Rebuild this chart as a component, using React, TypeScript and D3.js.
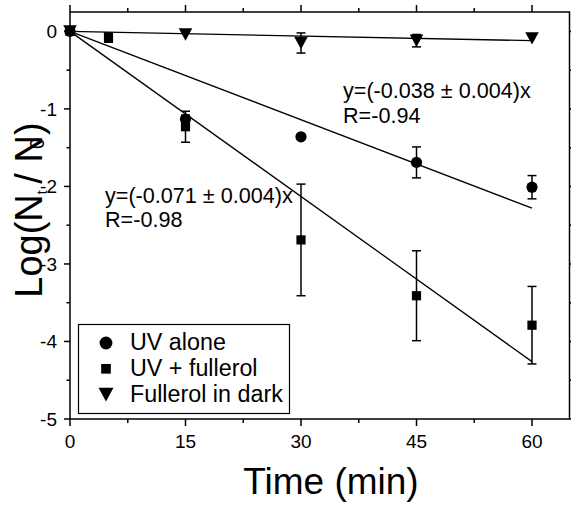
import React from "react";
import * as d3 from "d3";

const uvAloneTime = [0, 15, 30, 45, 60];
const uvAloneVal = [0, -1.13, -1.36, -1.69, -2.01];
const uvAloneErr = [0, 0.05, 0.03, 0.2, 0.15];

const uvFullTime = [0, 5, 15, 30, 45, 60];
const uvFullVal = [0, -0.08, -1.23, -2.69, -3.41, -3.79];
const uvFullErr = [0, 0.06, 0.2, 0.72, 0.58, 0.5];

const darkTime = [0, 15, 30, 45, 60];
const darkVal = [0, -0.04, -0.15, -0.12, -0.09];
const darkErr = [0, 0, 0.13, 0.08, 0];

const fitSlopes = [-0.038, -0.071, -0.002];
const fitEnd = 60;

const xTicks = [0, 15, 30, 45, 60];
const xMinor = [7.5, 22.5, 37.5, 52.5];
const yTicks = [0, -1, -2, -3, -4, -5];
const yMinor = [-0.5, -1.5, -2.5, -3.5, -4.5];

const legendLabels = ["UV alone", "UV + fullerol", "Fullerol in dark"];
const annotations = [
  ["y=(-0.038 ± 0.004)x", "R=-0.94"],
  ["y=(-0.071 ± 0.004)x", "R=-0.98"],
];

const FONT = "'Liberation Sans', Arial, sans-serif";

function Marker({ kind, cx, cy, s = 1 }: { kind: number; cx: number; cy: number; s?: number }) {
  if (kind === 0) return <circle cx={cx} cy={cy} r={5.6 * s} fill="#000" />;
  if (kind === 1) {
    const h = 4.6 * s;
    return <rect x={cx - h} y={cy - h} width={2 * h} height={2 * h} fill="#000" />;
  }
  const w = 6.8 * s;
  const hh = 6.2 * s;
  return <path d={`M${cx - w},${cy - hh}L${cx + w},${cy - hh}L${cx},${cy + hh}Z`} fill="#000" />;
}

export default function App() {
  const L = 70, R = 570.5, T = 12, B = 419;
  const x = d3.scaleLinear().domain([0, 65]).range([L, R]);
  const y = d3.scaleLinear().domain([-5, 0.25]).range([B, T]);

  const series = [
    { t: uvAloneTime, v: uvAloneVal, e: uvAloneErr },
    { t: uvFullTime, v: uvFullVal, e: uvFullErr },
    { t: darkTime, v: darkVal, e: darkErr },
  ];
  const line = d3.line<number>().x((d) => x(d[0] as any)).y((d) => y(d[1] as any));

  const frameR = 569.5;
  return (
    <svg
      width={571}
      height={506}
      style={{ position: "absolute", left: 0, top: 0, background: "#fff" }}
      fontFamily={FONT}
    >
      <rect x={0} y={0} width={571} height={506} fill="#fff" />
      {fitSlopes.map((m, i) => (
        <path
          key={"fit" + i}
          d={line([[0, 0], [fitEnd, m * fitEnd]] as any) as string}
          stroke="#000"
          strokeWidth={1.3}
          fill="none"
        />
      ))}
      {series.map((s, k) =>
        s.t.map((t, i) =>
          s.e[i] > 0.02 ? (
            <g key={`e${k}-${i}`} stroke="#000" strokeWidth={1.5}>
              <line x1={x(t)} x2={x(t)} y1={y(s.v[i] + s.e[i])} y2={y(s.v[i] - s.e[i])} />
              <line x1={x(t) - 4.5} x2={x(t) + 4.5} y1={y(s.v[i] + s.e[i])} y2={y(s.v[i] + s.e[i])} />
              <line x1={x(t) - 4.5} x2={x(t) + 4.5} y1={y(s.v[i] - s.e[i])} y2={y(s.v[i] - s.e[i])} />
            </g>
          ) : null
        )
      )}
      {series.map((s, k) =>
        s.t.map((t, i) => <Marker key={`m${k}-${i}`} kind={k} cx={x(t)} cy={y(s.v[i])} />)
      )}
      <rect x={L} y={T} width={frameR - L} height={B - T} fill="none" stroke="#000" strokeWidth={1.5} />
      {xTicks.map((t) => (
        <g key={"xt" + t} stroke="#000" strokeWidth={1.5}>
          <line x1={x(t)} x2={x(t)} y1={B} y2={B + 7} />
          <line x1={x(t)} x2={x(t)} y1={T} y2={T - 7} />
        </g>
      ))}
      {xMinor.map((t) => (
        <g key={"xm" + t} stroke="#000" strokeWidth={1.5}>
          <line x1={x(t)} x2={x(t)} y1={B} y2={B + 4} />
          <line x1={x(t)} x2={x(t)} y1={T} y2={T - 4} />
        </g>
      ))}
      {yTicks.map((t) => (
        <g key={"yt" + t} stroke="#000" strokeWidth={1.5}>
          <line x1={L} x2={L - 6} y1={y(t)} y2={y(t)} />
          <line x1={frameR} x2={frameR + 6} y1={y(t)} y2={y(t)} />
        </g>
      ))}
      {yMinor.map((t) => (
        <g key={"ym" + t} stroke="#000" strokeWidth={1.5}>
          <line x1={L} x2={L - 3.5} y1={y(t)} y2={y(t)} />
          <line x1={frameR} x2={frameR + 3.5} y1={y(t)} y2={y(t)} />
        </g>
      ))}
      {xTicks.map((t) => (
        <text key={"xl" + t} x={x(t)} y={448} textAnchor="middle" fontSize={19}>
          {t}
        </text>
      ))}
      {yTicks.map((t) => (
        <text key={"yl" + t} x={57} y={y(t) + 7} textAnchor="end" fontSize={19}>
          {t}
        </text>
      ))}
      <text x={331} y={494} textAnchor="middle" fontSize={37}>
        Time (min)
      </text>
      <text transform="translate(42,210) rotate(-90)" textAnchor="middle" fontSize={38}>
        Log(N
        <tspan fontSize={14} dy={5}>t</tspan>
        <tspan dx={-3.9} dy={-5}> / N</tspan>
        <tspan fontSize={20} dx={-14} dy={2}>0</tspan>
        <tspan dx={3} dy={-2}>)</tspan>
      </text>
      <text x={343} y={98} fontSize={21.6}>{annotations[0][0]}</text>
      <text x={343} y={123} fontSize={21.6}>{annotations[0][1]}</text>
      <text x={105} y={203} fontSize={21.6}>{annotations[1][0]}</text>
      <text x={105} y={227} fontSize={21.6}>{annotations[1][1]}</text>
      <rect x={78.5} y={324.5} width={211} height={89} fill="#fff" stroke="#000" strokeWidth={1.2} />
      {legendLabels.map((lab, i) => (
        <g key={"lg" + i}>
          <Marker kind={i} cx={106} cy={343 + i * 25.8} s={i === 0 ? 1.15 : i === 1 ? 1.05 : 1.1} />
          <text x={130} y={350 + i * 25.8} fontSize={23.3}>
            {lab}
          </text>
        </g>
      ))}
    </svg>
  );
}
